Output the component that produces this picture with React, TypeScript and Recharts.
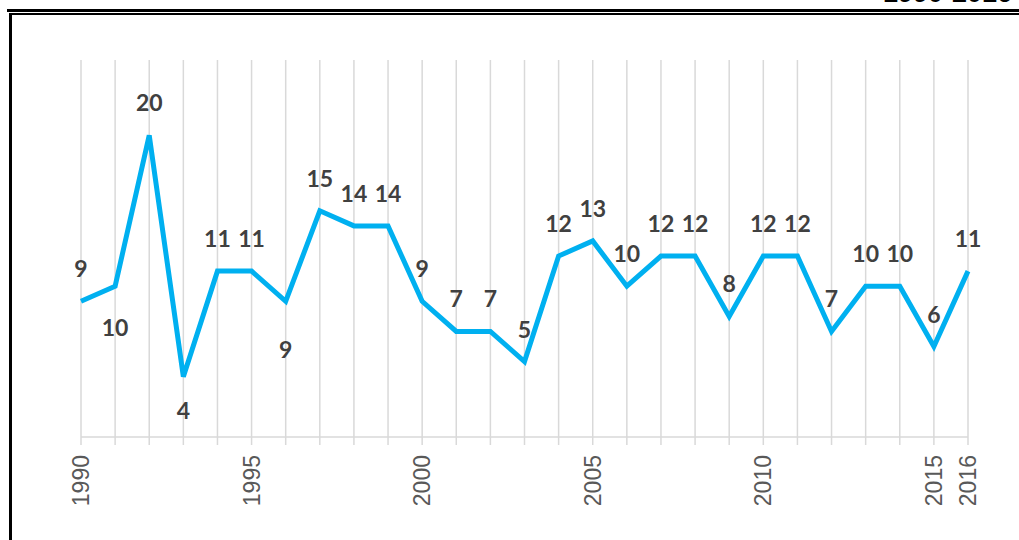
import { CartesianGrid, LabelList, Line, LineChart, XAxis, YAxis } from "recharts";

const years = [
  1990, 1991, 1992, 1993, 1994, 1995, 1996, 1997, 1998, 1999, 2000, 2001, 2002,
  2003, 2004, 2005, 2006, 2007, 2008, 2009, 2010, 2011, 2012, 2013, 2014, 2015,
  2016,
];
const counts = [
  9, 10, 20, 4, 11, 11, 9, 15, 14, 14, 9, 7, 7, 5, 12, 13, 10, 12, 12, 8, 12, 12,
  7, 10, 10, 6, 11,
];
const labelledYears = [1990, 1995, 2000, 2005, 2010, 2015, 2016];

const data = years.map((year, i) => ({ year, count: counts[i] }));

// labels that Excel put under the point instead of above (index -> offset px)
const belowOffsets: Record<number, number> = { 1: 41, 3: 33, 6: 48 };

const renderLabel = (props: any) => {
  const { x, y, value, index } = props;
  const below = belowOffsets[index];
  const ty = below !== undefined ? y + below : y - 33;
  return (
    <text
      x={x}
      y={ty}
      fill="#404040"
      fontSize={23}
      fontWeight="bold"
      fontFamily="Lato, 'Open Sans', sans-serif"
      textAnchor="middle"
      dominantBaseline="central"
    >
      {value}
    </text>
  );
};

const renderTick = (props: any) => {
  const { x, y, payload } = props;
  if (!labelledYears.includes(payload.value)) return <g />;
  return (
    <text
      x={x}
      y={y + 8}
      transform={`rotate(-90 ${x} ${y + 8})`}
      fill="#595959"
      fontSize={23}
      fontFamily="'Liberation Sans', Arial, sans-serif"
      textAnchor="end"
      dominantBaseline="central"
    >
      {payload.value}
    </text>
  );
};

const App = () => {
  return (
    <div
      style={{
        position: "absolute",
        left: 0,
        top: 0,
        width: 1019,
        height: 540,
        background: "#fff",
        overflow: "hidden",
      }}
    >
      <div
        style={{
          position: "absolute",
          right: 7,
          top: -22.5,
          fontFamily: "'Liberation Sans', Arial, sans-serif",
          fontWeight: "bold",
          fontSize: 27,
          color: "#000",
          lineHeight: "30px",
        }}
      >
        1990-2016
      </div>
      <div style={{ position: "absolute", left: 7, top: 9, right: 0, height: 3, background: "#000" }} />
      <div style={{ position: "absolute", left: 9, top: 13, right: 0, height: 1.5, background: "#000" }} />
      <div style={{ position: "absolute", left: 9, top: 13, bottom: 0, width: 3, background: "#000" }} />
      <div style={{ position: "absolute", left: 0, top: 0 }}>
        <LineChart
          width={1019}
          height={540}
          data={data}
          margin={{ top: 60, right: 51, bottom: 0, left: 81 }}
        >
          <CartesianGrid horizontal={false} stroke="#d9d9d9" strokeWidth={1.5} />
          <XAxis
            dataKey="year"
            type="number"
            domain={[1990, 2016]}
            ticks={years}
            interval={0}
            axisLine={{ stroke: "#d9d9d9", strokeWidth: 1.5 }}
            tickLine={{ stroke: "#d9d9d9", strokeWidth: 1.5 }}
            tickSize={8}
            tick={renderTick}
            height={103}
          />
          <YAxis hide domain={[0, 25]} />
          <Line
            dataKey="count"
            stroke="#00b0f0"
            strokeWidth={5}
            dot={false}
            isAnimationActive={false}
          >
            <LabelList dataKey="count" content={renderLabel} />
          </Line>
        </LineChart>
      </div>
    </div>
  );
};

export default App;
